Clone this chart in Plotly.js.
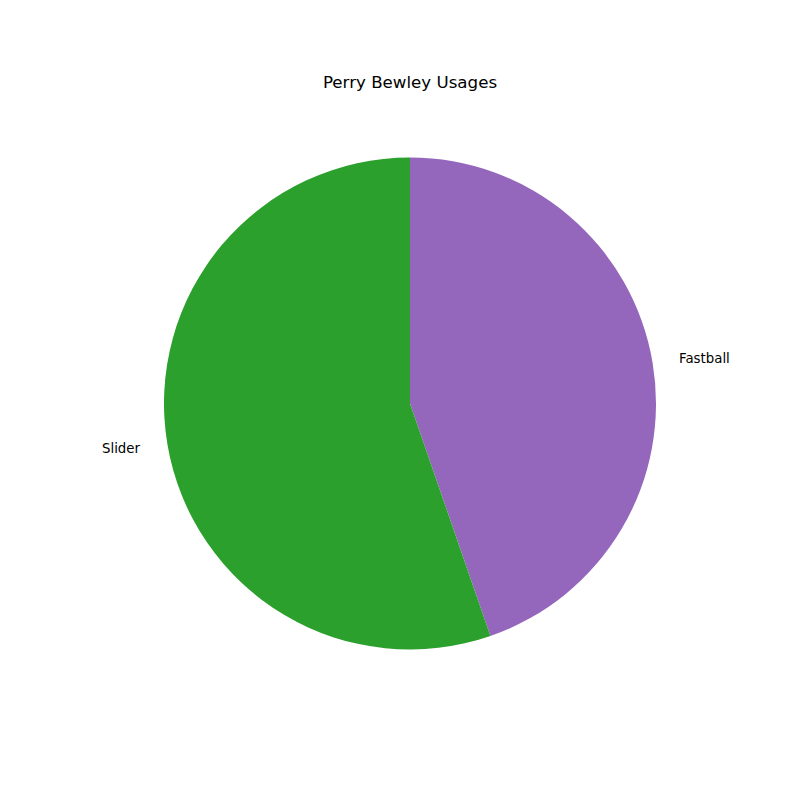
<!DOCTYPE html>
<html>
<head>
<meta charset="utf-8">
<script src="https://cdn.plot.ly/plotly-3.0.1.min.js"></script>
<style>html,body{margin:0;padding:0;background:#fff;}#chart{width:800px;height:800px;}</style>
</head>
<body>
<div id="chart"></div>
<script>
const labels = ["Fastball", "Slider"];
const values = [44.7, 55.3];
const colors = ["#9467bd", "#2ca02c"];

// label annotations placed at 1.1 radius at each slice's mid-angle (clockwise from 12 o'clock)
const total = values.reduce((a, b) => a + b, 0);
const annotations = [];
let acc = 0;
values.forEach((v, i) => {
  const mid = (acc + v / 2) / total * 2 * Math.PI;
  acc += v;
  const sx = Math.sin(mid), cy = Math.cos(mid);
  annotations.push({
    text: labels[i],
    xref: "paper", yref: "paper",
    x: 0.5 + 0.55 * sx,
    y: 0.5 + 0.55 * cy,
    xanchor: sx >= 0 ? "left" : "right",
    yanchor: "middle",
    showarrow: false,
    font: {family: "DejaVu Sans", size: 13.33, color: "#000"}
  });
});

const trace = {
  type: "pie",
  labels: labels,
  values: values,
  sort: false,
  direction: "clockwise",
  rotation: 0,
  marker: {colors: colors, line: {width: 0}},
  textinfo: "none",
  hoverinfo: "label+percent",
  showlegend: false
};

const layout = {
  width: 800, height: 800,
  margin: {l: 164, r: 144, t: 157, b: 150},
  paper_bgcolor: "#fff",
  plot_bgcolor: "#fff",
  showlegend: false,
  title: {
    text: "Perry Bewley Usages",
    font: {family: "DejaVu Sans", size: 16.67, color: "#000"},
    x: 410 / 800, xanchor: "center",
    y: 1 - 82 / 800, yref: "container", yanchor: "middle"
  },
  annotations: annotations
};

Plotly.newPlot("chart", [trace], layout, {displayModeBar: false, staticPlot: true});
</script>
</body>
</html>
